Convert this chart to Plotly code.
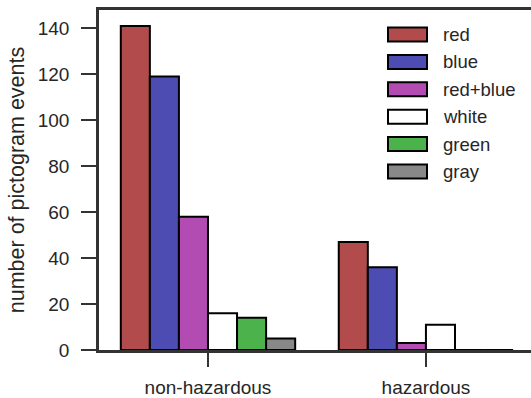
import plotly.graph_objects as go

categories = ["non-hazardous", "hazardous"]
series_names = ["red", "blue", "red+blue", "white", "green", "gray"]
red_vals = [141, 47]
blue_vals = [119, 36]
redblue_vals = [58, 3]
white_vals = [16, 11]
green_vals = [14, 0]
gray_vals = [5, 0]
series_values = [red_vals, blue_vals, redblue_vals, white_vals, green_vals, gray_vals]
colors = ["#b24c4c", "#4c4cb2", "#b24cb2", "#ffffff", "#4cb24c", "#888888"]

FONT = "Liberation Sans, Arial, sans-serif"
TXT = "#262626"

fig = go.Figure()
xidx = list(range(len(categories)))
for name, vals, col in zip(series_names, series_values, colors):
    fig.add_trace(go.Bar(
        x=xidx, y=vals, name=name,
        marker=dict(color=col, line=dict(color="black", width=2)),
        showlegend=False,
    ))

# manual legend (wide patches like matplotlib)
leg_x0, leg_x1 = 388, 427
W, H = 531, 398
ml, mr, mt, mb = 99, 0, 10, 48
pw, ph = W - ml - mr, H - mt - mb
for i, (name, col) in enumerate(zip(series_names, colors)):
    yc = 34.5 + i * 27.4
    fig.add_shape(type="rect", xref="paper", yref="paper",
                  x0=(leg_x0 - ml) / pw, x1=(leg_x1 - ml) / pw,
                  y0=1 - (yc - 7 - mt) / ph, y1=1 - (yc + 7 - mt) / ph,
                  fillcolor=col, line=dict(color="black", width=2))
    fig.add_annotation(xref="paper", yref="paper",
                       x=(441 - ml) / pw, y=1 - (yc - mt) / ph,
                       text=name, showarrow=False, xanchor="left", yanchor="middle",
                       font=dict(family=FONT, size=18.5, color=TXT))

fig.update_layout(
    width=W, height=H,
    margin=dict(l=ml, r=mr, t=mt, b=mb),
    paper_bgcolor="white", plot_bgcolor="white",
    barmode="group", bargap=0.2, bargroupgap=0,
    font=dict(family=FONT, size=19, color=TXT),
)
fig.update_xaxes(
    range=[-0.5, 1.482], tickmode="array", tickvals=xidx, ticktext=categories,
    showline=True, linecolor="#333333", linewidth=2.5, mirror=True,
    ticks="outside", ticklen=14, tickwidth=1.5, tickcolor="#333333",
    ticklabelstandoff=4,
    showgrid=False, zeroline=False,
    tickfont=dict(family=FONT, size=19, color=TXT),
)
fig.update_yaxes(
    range=[0, 148], tickvals=[0, 20, 40, 60, 80, 100, 120, 140],
    showline=True, linecolor="#333333", linewidth=2.5, mirror=False,
    ticks="outside", ticklen=15, tickwidth=2, tickcolor="#333333",
    ticklabelstandoff=8,
    showgrid=False, zeroline=False,
    title=dict(text="number of pictogram events", font=dict(family=FONT, size=21.5, color=TXT), standoff=8),
    tickfont=dict(family=FONT, size=19, color=TXT),
)

fig.write_html("out.html")
